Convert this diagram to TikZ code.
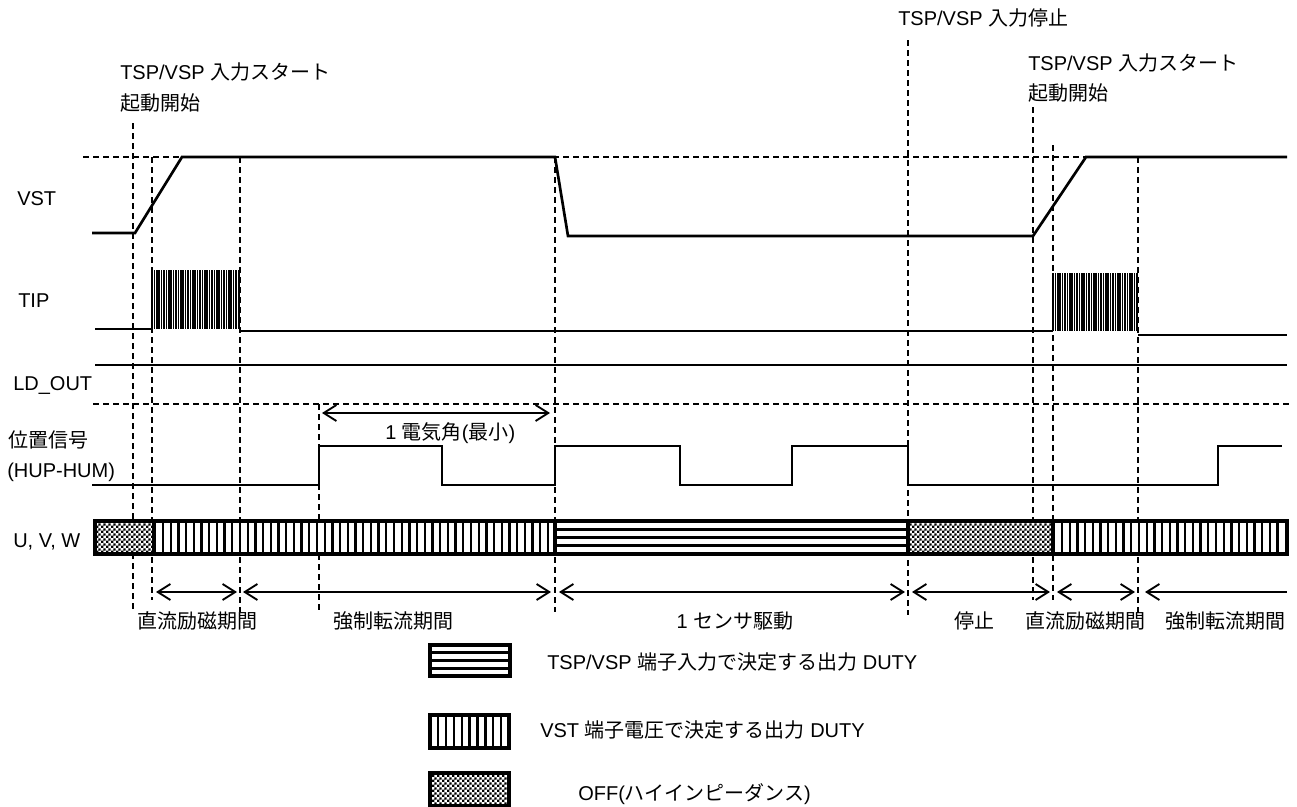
\documentclass[tikz,border=0pt]{standalone}
\usepackage{fontspec}
\setmainfont{Liberation Sans}
\newfontfamily\jp{Noto Sans CJK JP}
\usetikzlibrary{arrows.meta,patterns}
\pgfdeclarepatternformonly{mychecker}{\pgfpointorigin}{\pgfpoint{3.6pt}{3.6pt}}{\pgfpoint{3.6pt}{3.6pt}}{%
  \pgfpathrectangle{\pgfpointorigin}{\pgfpoint{1.8pt}{1.8pt}}%
  \pgfpathrectangle{\pgfpoint{1.8pt}{1.8pt}}{\pgfpoint{1.8pt}{1.8pt}}%
  \pgfusepath{fill}}
\begin{document}
\begin{tikzpicture}[x=0.75pt,y=-0.75pt,
  sig/.style={line width=2pt, line join=miter},
  guide/.style={line width=0.85pt, dash pattern=on 4.5pt off 3pt},
  durarrow/.style={line width=1.4pt, {Straight Barb[length=9.5pt,width=12pt]}-{Straight Barb[length=9.5pt,width=12pt]}},
  leftarrow/.style={line width=1.4pt, {Straight Barb[length=9.5pt,width=12pt]}-},
  stripe/.style={line width=1.7pt},
  hstripe/.style={line width=2.2pt},
  burst/.style={line width=1.2pt},
  barframe/.style={line width=2.4pt},
  divider/.style={line width=3pt},
  dotfill/.style={pattern=mychecker},
  lbl/.style={anchor=base west, inner sep=0pt, font=\fontsize{15pt}{18pt}\selectfont},
  clbl/.style={anchor=base, inner sep=0pt, font=\fontsize{15pt}{18pt}\selectfont}]
\useasboundingbox (0,0) rectangle (1297,807);

% ---- guide dashed lines ----
\draw[guide] (83,157) -- (1287,157);
\draw[guide] (93,404) -- (1290,404);
\draw[guide] (133,123) -- (133,612);
\draw[guide] (152,157) -- (152,600);
\draw[guide] (240,157) -- (240,612);
\draw[guide] (319,404) -- (319,612);
\draw[guide] (555,157) -- (555,612);
\draw[guide] (908,40) -- (908,615);
\draw[guide] (1033,107) -- (1033,600);
\draw[guide] (1053,145) -- (1053,600);
\draw[guide] (1138,157) -- (1138,615);

% ---- top labels ----
\node[lbl] (st1) at (120,79) {TSP/VSP {\jp 入力スタート}};
\node[lbl] (ks1) at (120,110) {\jp 起動開始};
\node[lbl] (stp) at (898,25) {TSP/VSP {\jp 入力停止}};
\node[lbl] (st2) at (1028,70) {TSP/VSP {\jp 入力スタート}};
\node[lbl] (ks2) at (1028,100) {\jp 起動開始};

% ---- left labels ----
\node[lbl] (lvst) at (17,205) {VST};
\node[lbl] (ltip) at (18,307) {TIP};
\node[lbl] (lld) at (13,390) {LD\_OUT};
\node[lbl] (lpos) at (8,447) {\jp 位置信号};
\node[lbl] (lhum) at (7,477) {(HUP-HUM)};
\node[lbl] (luvw) at (13,547) {U, V, W};

% ---- VST ----
\draw[sig] (92,233) -- (135,233) -- (182,157) -- (555,157) -- (568,236)
  -- (1033,236) -- (1086,157) -- (1287,157);

% ---- TIP ----
\draw[sig] (95,329) -- (152,329);
\foreach \x in {152,154.4,...,240} \draw[burst] (\x,270) -- (\x,329);
\draw[burst] (239.5,270) -- (239.5,329);
\draw[sig] (240,331) -- (1053,331);
\foreach \x in {1053,1055.4,...,1138} \draw[burst] (\x,273) -- (\x,331);
\draw[burst] (1137.5,273) -- (1137.5,331);
\draw[sig] (1138,335) -- (1287,335);

% ---- LD_OUT ----
\draw[sig] (95,365) -- (1287,365);

% ---- position signal ----
\draw[sig] (92,485) -- (319,485) -- (319,446) -- (442,446) -- (442,485)
  -- (555,485) -- (555,446) -- (680,446) -- (680,485) -- (792,485)
  -- (792,446) -- (908,446) -- (908,485) -- (1218,485) -- (1218,446) -- (1282,446);

% ---- 1 electrical angle ----
\coordinate (ea1) at (322,413);
\coordinate (ea2) at (550,413);
\draw[durarrow] (ea1) -- (ea2);
\node[lbl] (ealbl) at (385,439) {1 {\jp 電気角}({\jp 最小})};

% ---- U V W bar ----
\fill[white] (95,521) rectangle (1287,554);
\fill[dotfill] (95,521) rectangle (152,554);
\fill[dotfill] (908,521) rectangle (1053,554);
\foreach \x in {163,170.7,...,549} \draw[stripe] (\x,521) -- (\x,554);
\foreach \x in {1062,1069.7,...,1281} \draw[stripe] (\x,521) -- (\x,554);
\foreach \y in {529.25,537.5,545.75} \draw[hstripe] (555,\y) -- (908,\y);
\draw[divider] (154,521) -- (154,554);
\draw[divider] (555,521) -- (555,554);
\draw[divider] (908,521) -- (908,554);
\draw[divider] (1053,521) -- (1053,554);
\draw[barframe] (95,521) rectangle (1287,554);

% ---- duration arrows ----
\coordinate (a1) at (156,592);  \coordinate (a2) at (237,592);
\coordinate (a3) at (243,592);  \coordinate (a4) at (551,592);
\coordinate (a5) at (559,592);  \coordinate (a6) at (905,592);
\coordinate (a7) at (912,592);  \coordinate (a8) at (1050,592);
\coordinate (a9) at (1057,592); \coordinate (a10) at (1135,592);
\coordinate (a11) at (1145,592); \coordinate (a12) at (1287,592);
\draw[durarrow] (a1) -- (a2);
\draw[durarrow] (a3) -- (a4);
\draw[durarrow] (a5) -- (a6);
\draw[durarrow] (a7) -- (a8);
\draw[durarrow] (a9) -- (a10);
\draw[leftarrow] (a11) -- (a12);

% ---- period labels ----
\node[clbl] (p1) at (197,628) {\jp 直流励磁期間};
\node[clbl] (p2) at (393,628) {\jp 強制転流期間};
\node[clbl] (p3) at (735,628) {1 {\jp センサ駆動}};
\node[clbl] (p4) at (974,628) {\jp 停止};
\node[clbl] (p5) at (1085,628) {\jp 直流励磁期間};
\node[clbl] (p6) at (1225,628) {\jp 強制転流期間};

% ---- legend ----
\fill[white] (430,645) rectangle (510,676);
\foreach \y in {652.75,660.5,668.25} \draw[hstripe] (430,\y) -- (510,\y);
\draw[barframe] (430,645) rectangle (510,676);
\node[lbl] (lg1) at (547,669) {TSP/VSP {\jp 端子入力で決定する出力} DUTY};

\fill[white] (430,715) rectangle (509,748);
\foreach \x in {438,445.9,...,502} \draw[stripe] (\x,715) -- (\x,748);
\draw[barframe] (430,715) rectangle (509,748);
\node[lbl] (lg2) at (540,737) {VST {\jp 端子電圧で決定する出力} DUTY};

\fill[dotfill] (430,773) rectangle (509,806);
\draw[barframe] (430,773) rectangle (509,806);
\node[lbl] (lg3) at (578,800) {OFF({\jp ハイインピーダンス})};
\end{tikzpicture}
\end{document}
